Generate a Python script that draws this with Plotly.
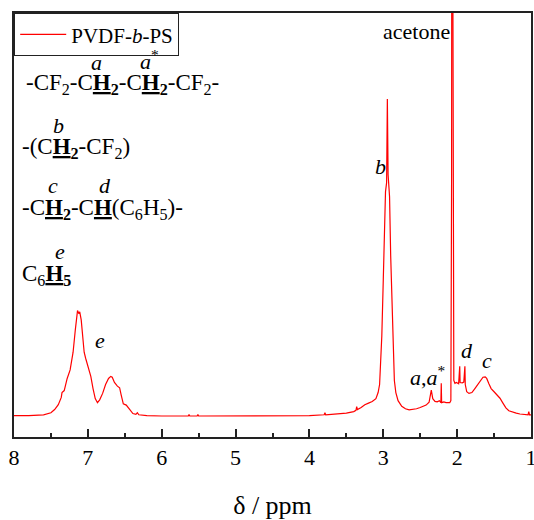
import plotly.graph_objects as go

# chemical shift (ppm) and intensity (baseline = 0)
ppm = [8.00, 7.80, 7.60, 7.50, 7.45, 7.40, 7.36, 7.35, 7.32, 7.28, 7.24, 7.20, 7.17, 7.15, 7.14, 7.12, 7.11, 7.09, 7.07, 7.05, 7.03, 7.00, 6.98, 6.96, 6.93, 6.90, 6.87, 6.84, 6.80, 6.76, 6.72, 6.69, 6.67, 6.64, 6.60, 6.57, 6.55, 6.52, 6.48, 6.45, 6.42, 6.39, 6.35, 6.33, 6.31, 6.25, 6.20, 6.00, 5.64, 5.63, 5.62, 5.52, 5.51, 5.50, 5.00, 4.50, 4.00, 3.80, 3.79, 3.78, 3.60, 3.50, 3.40, 3.37, 3.36, 3.35, 3.30, 3.25, 3.20, 3.15, 3.10, 3.07, 3.05, 3.02, 3.00, 2.98, 2.97, 2.955, 2.945, 2.935, 2.915, 2.90, 2.89, 2.87, 2.85, 2.83, 2.80, 2.75, 2.70, 2.65, 2.60, 2.55, 2.50, 2.45, 2.42, 2.38, 2.35, 2.33, 2.30, 2.27, 2.24, 2.22, 2.215, 2.21, 2.18, 2.15, 2.12, 2.10, 2.085, 2.075, 2.07, 2.058, 2.052, 2.045, 2.03, 2.01, 1.98, 1.965, 1.96, 1.93, 1.91, 1.895, 1.89, 1.87, 1.84, 1.80, 1.76, 1.72, 1.68, 1.65, 1.62, 1.60, 1.57, 1.54, 1.50, 1.46, 1.42, 1.38, 1.34, 1.30, 1.25, 1.20, 1.15, 1.08, 1.04, 1.03, 1.02, 1.00]
intensity = [0.3, 0.3, 0.5, 1.0, 1.8, 3.0, 4.8, 6.0, 6.5, 9.5, 11.6, 16.0, 21.5, 25.5, 26.3, 25.5, 26.0, 24.0, 19.0, 16.0, 14.5, 12.5, 11.8, 10.0, 7.0, 4.5, 3.5, 4.2, 5.8, 8.0, 9.5, 10.0, 9.8, 8.5, 7.6, 7.2, 5.5, 3.2, 2.9, 2.2, 1.2, 0.8, 0.6, 1.0, 0.5, 0.4, 0.3, 0.2, 0.2, 0.6, 0.2, 0.2, 0.6, 0.2, 0.2, 0.2, 0.3, 0.5, 1.0, 0.5, 0.7, 0.9, 1.3, 1.6, 2.5, 1.8, 2.3, 3.0, 3.4, 3.8, 4.5, 6.0, 8.0, 20.0, 34.0, 50.0, 55.7, 58.0, 78.7, 60.0, 54.5, 40.0, 33.0, 18.0, 9.0, 6.0, 4.0, 2.6, 2.0, 1.7, 1.8, 2.0, 2.3, 2.6, 2.9, 3.6, 6.6, 4.5, 3.8, 3.7, 4.0, 3.5, 8.3, 3.5, 3.7, 3.5, 3.5, 3.5, 4.0, 60.0, 200.0, 200.0, 60.0, 9.0, 8.3, 8.5, 8.2, 12.5, 8.5, 8.4, 8.6, 12.5, 8.0, 6.2, 5.8, 6.0, 7.0, 8.0, 9.2, 9.8, 9.9, 9.5, 8.2, 7.0, 6.2, 5.4, 4.6, 3.4, 2.2, 1.5, 1.1, 0.9, 0.7, 0.5, 0.5, 1.3, 0.5, 0.5]

x_ticks = [8, 7, 6, 5, 4, 3, 2, 1]
series_name = "PVDF-<i>b</i>-PS"

SERIF = "Liberation Serif"

fig = go.Figure()
fig.add_trace(go.Scatter(x=ppm, y=intensity, mode="lines", name=series_name,
                         line=dict(color="#ff0000", width=1.2), showlegend=True))

# plot-area pixel geometry helpers (plot: x 14..531, y 13..437)
def px(xp):
    return (xp - 14) / 517.0

def py(yp):
    return (437 - yp) / 424.0

annotations = []

def paper_text(text, x, y, size=23, anchor="left"):
    annotations.append(dict(text=text, x=px(x), y=py(y), xref="paper", yref="paper",
                            xanchor=anchor, yanchor="middle", showarrow=False,
                            font=dict(family=SERIF, size=size, color="black")))

def data_text(text, x, y, size=22):
    annotations.append(dict(text=text, x=x, y=y, xref="x", yref="y",
                            xanchor="center", yanchor="middle", showarrow=False,
                            font=dict(family=SERIF, size=size, color="black")))

# structure formulas
paper_text("-CF<sub>2</sub>-C<b><u>H</u><sub>2</sub></b>-C<b><u>H</u><sub>2</sub></b>-CF<sub>2</sub>-", 24, 84)
paper_text("<i>a</i>", 96, 62, 22, "center")
paper_text("<i>a</i><sup>*</sup>", 149, 60, 22, "center")
paper_text("-(C<b><u>H</u><sub>2</sub></b>-CF<sub>2</sub>)", 20, 148)
paper_text("<i>b</i>", 58, 125, 22, "center")
paper_text("-C<b><u>H</u><sub>2</sub></b>-C<b><u>H</u></b>(C<sub>6</sub>H<sub>5</sub>)-", 20, 209)
paper_text("<i>c</i>", 53, 185, 22, "center")
paper_text("<i>d</i>", 105, 185, 22, "center")
paper_text("C<sub>6</sub><b><u>H</u><sub>5</sub></b>", 20, 275)
paper_text("<i>e</i>", 60, 251, 22, "center")

# peak labels
data_text("<i>e</i>", 6.836, 19)
data_text("<i>b</i>", 3.034, 62)
data_text("acetone", 2.547, 95.3)
data_text("<i>a</i>,<i>a</i><sup>*</sup>", 2.40, 10)
data_text("<i>d</i>", 1.87, 16.3)
data_text("<i>c</i>", 1.60, 14)

fig.update_layout(
    width=534, height=520,
    margin=dict(l=14, r=3, t=13, b=83, autoexpand=False),
    paper_bgcolor="white", plot_bgcolor="white",
    font=dict(family=SERIF, color="black"),
    annotations=annotations,
    legend=dict(x=0, y=1, xanchor="left", yanchor="top", bgcolor="white",
                bordercolor="#222", borderwidth=1.2,
                font=dict(family=SERIF, size=21, color="black"),
                itemwidth=46, tracegroupgap=0),
    xaxis=dict(range=[8, 1], tickvals=x_ticks, ticktext=[str(t) for t in x_ticks],
               ticks="inside", ticklen=8, tickwidth=1.5, tickcolor="#222",
               minor=dict(dtick=0.5, tick0=0, ticks="inside", ticklen=4, tickwidth=1.5, tickcolor="#222"),
               showline=True, linecolor="#222", linewidth=1.5, mirror=True,
               showgrid=False, zeroline=False, ticklabeloverflow="allow", automargin=False,
               tickfont=dict(family=SERIF, size=22, color="black"),
               title=dict(text="δ / ppm", font=dict(family=SERIF, size=26, color="black"), standoff=27)),
    yaxis=dict(range=[-5, 100], showticklabels=False, ticks="",
               showline=True, linecolor="#222", linewidth=1.5, mirror=True,
               showgrid=False, zeroline=False, automargin=False),
)

fig.write_html("out.html")
